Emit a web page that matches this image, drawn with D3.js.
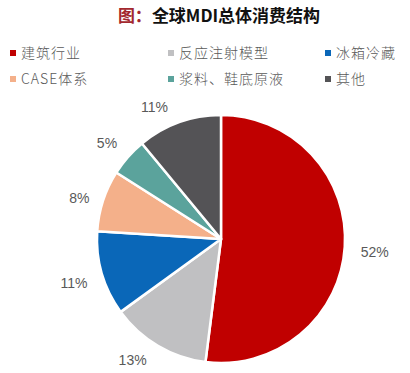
<!DOCTYPE html>
<html><head><meta charset="utf-8">
<script src="https://cdn.jsdelivr.net/npm/d3@7"></script>
<style>
html,body{margin:0;padding:0;background:#fff;}
svg{display:block;}
</style></head>
<body>
<svg id="chart" width="410" height="373"></svg>
<script>
const categories = ["建筑行业","反应注射模型","冰箱冷藏","CASE体系","浆料、鞋底原液","其他"];
const values = [52,13,11,8,5,11];
const labels = ["52%","13%","11%","8%","5%","11%"];
const colors = ["#C00000","#C0C0C2","#0A67B8","#F4B08A","#5BA39C","#545356"];

const svg = d3.select("#chart");
const cx = 221, cy = 239, R = 124, labelR = 152;
// best-fit style label nudges (layout only)
const labelNudge = [[2,4],[-11,-10],[-1,2],[3,6],[0,5],[-15,11]];

// Title
const title = svg.append("text")
  .attr("x", 219).attr("y", 22)
  .attr("text-anchor","middle")
  .attr("font-family","'Noto Sans CJK SC', sans-serif")
  .attr("font-size",17).attr("font-weight","bold");
title.append("tspan").attr("fill","#A3282E").text("图：");
title.append("tspan").attr("fill","#111").text("全球MDI总体消费结构");

// Legend
const colX = [10, 168, 325];
const rowY = [53, 79];
const lg = svg.append("g");
categories.forEach((name, i) => {
  const x = colX[i % 3], y = rowY[Math.floor(i / 3)];
  lg.append("rect").attr("x", x).attr("y", y - 3).attr("width", 6).attr("height", 6).attr("fill", colors[i]);
  lg.append("text").attr("x", x + 11).attr("y", y + 5)
    .attr("font-family","'Noto Sans CJK SC', sans-serif")
    .attr("font-size",14).attr("font-weight",300).attr("letter-spacing",1)
    .attr("fill","#595959").text(name);
});

// Pie
const pie = d3.pie().sort(null).value(d => d)(values);
const arc = d3.arc().innerRadius(0).outerRadius(R);
const labelArc = d3.arc().innerRadius(labelR).outerRadius(labelR);
const g = svg.append("g").attr("transform", `translate(${cx},${cy})`);
g.selectAll("path").data(pie).join("path")
  .attr("d", arc)
  .attr("fill", (d,i) => colors[i])
  .attr("stroke", "#fff").attr("stroke-width", 2.5).attr("stroke-linejoin","round");

g.selectAll("text.lbl").data(pie).join("text").attr("class","lbl")
  .attr("transform", (d,i) => {
    const c = labelArc.centroid(d);
    return `translate(${c[0] + labelNudge[i][0]},${c[1] + labelNudge[i][1]})`;
  })
  .attr("text-anchor","middle").attr("dy","0.35em")
  .attr("font-family","'Liberation Sans', Arial, sans-serif")
  .attr("font-size",14).attr("fill","#595959")
  .text((d,i) => labels[i]);
</script>
</body></html>
